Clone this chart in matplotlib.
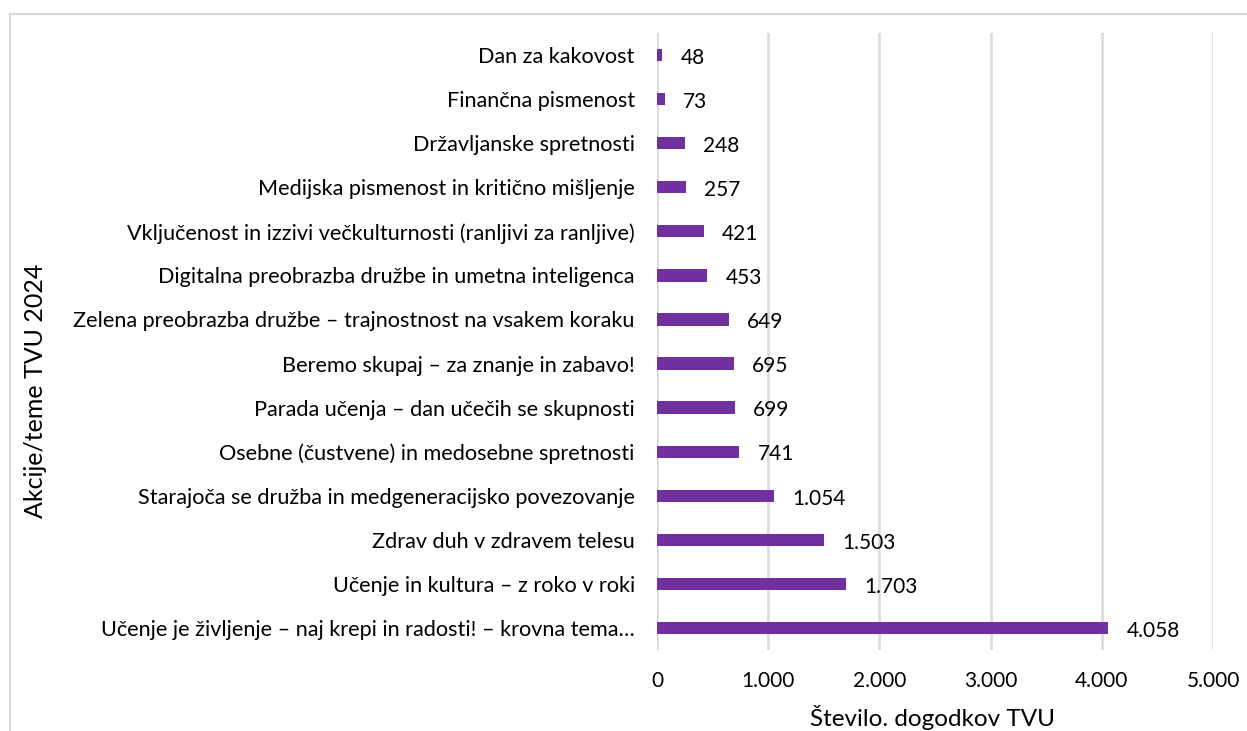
import matplotlib
matplotlib.use("Agg")
import matplotlib.pyplot as plt
from matplotlib.ticker import FuncFormatter, MultipleLocator
from matplotlib.patches import Rectangle

plt.rcParams['font.family'] = ['Lato', 'DejaVu Sans']

categories = [
    "Učenje je življenje – naj krepi in radosti! – krovna tema…",
    "Učenje in kultura – z roko v roki",
    "Zdrav duh v zdravem telesu",
    "Starajoča se družba in medgeneracijsko povezovanje",
    "Osebne (čustvene) in medosebne spretnosti",
    "Parada učenja – dan učečih se skupnosti",
    "Beremo skupaj – za znanje in zabavo!",
    "Zelena preobrazba družbe – trajnostnost na vsakem koraku",
    "Digitalna preobrazba družbe in umetna inteligenca",
    "Vključenost in izzivi večkulturnosti (ranljivi za ranljive)",
    "Medijska pismenost in kritično mišljenje",
    "Državljanske spretnosti",
    "Finančna pismenost",
    "Dan za kakovost",
]
values = [4058, 1703, 1503, 1054, 741, 699, 695, 649, 453, 421, 257, 248, 73, 48]
x_label = "Število. dogodkov TVU"
y_label = "Akcije/teme TVU 2024"

W, H = 1247, 731
fig = plt.figure(figsize=(W / 100, H / 100), dpi=100)

# border
fig.patches.append(Rectangle((10 / W, -0.1), 1.2, (H - 14) / H + 0.1,
                             transform=fig.transFigure, fill=False,
                             edgecolor='#D9D9D9', linewidth=1.5))

ax_left, ax_right = 657, 1213
ax_top, ax_bottom = 33, 650
ax = fig.add_axes([ax_left / W, 1 - ax_bottom / H, (ax_right - ax_left) / W,
                   (ax_bottom - ax_top) / H])

y = list(range(len(categories)))
ax.barh(y, values, height=0.28, color='#7030A0', zorder=3)
ax.set_yticks(y)
ax.set_yticklabels(categories, fontsize=15.6, color='#000000')
ax.set_ylim(-0.5, len(categories) - 0.5)
ax.set_xlim(0, 5000)
ax.xaxis.set_major_locator(MultipleLocator(1000))
ax.xaxis.set_major_formatter(FuncFormatter(lambda v, p: f"{int(v):,}".replace(",", ".")))
ax.tick_params(axis='x', labelsize=15, length=0, pad=15, colors='#000000')
ax.tick_params(axis='y', length=0, pad=16)
ax.grid(axis='x', color='#D9D9D9', linewidth=1.8, zorder=0)
for s in ax.spines.values():
    s.set_visible(False)

for yi, v in zip(y, values):
    ax.annotate(f"{v:,}".replace(",", "."), (v, yi), xytext=(13, -2),
                textcoords='offset points', va='center', ha='left', fontsize=15)

fig.text(933 / W, 1 - 718 / H, x_label, ha='center', va='center', fontsize=17.5)
fig.text(36 / W, 1 - 391 / H, y_label, ha='center', va='center', rotation=90, fontsize=18)

fig.savefig("out.png", dpi=100)
